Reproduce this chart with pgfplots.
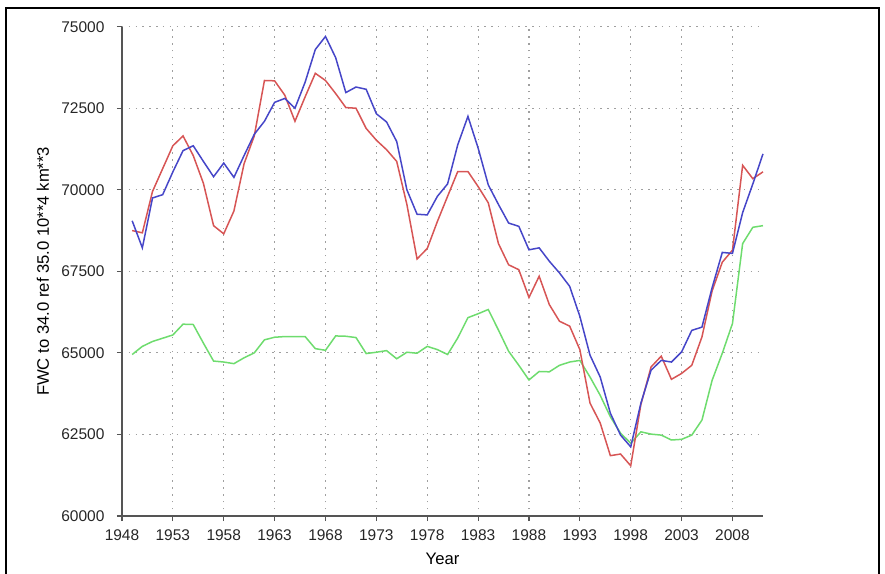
\documentclass[border=0pt]{standalone}
\usepackage{fontspec}
\setmainfont{Liberation Sans}
\usepackage{pgfplots}
\usepackage{pgfplotstable}
\pgfplotsset{compat=1.18}
\definecolor{cblue}{RGB}{70,70,200}
\definecolor{cred}{RGB}{215,85,85}
\definecolor{cgreen}{RGB}{110,220,110}
\definecolor{axgray}{RGB}{85,85,85}
\pgfplotstableread{
year blue red green
1949 69050 68750 64950
1950 68220 68680 65200
1951 69750 69950 65350
1952 69850 70650 65450
1953 70550 71350 65550
1954 71200 71650 65880
1955 71350 71050 65870
1956 70870 70200 65300
1957 70400 68900 64750
1958 70820 68650 64720
1959 70380 69350 64670
1960 71050 70800 64850
1961 71700 71650 65000
1962 72100 73350 65400
1963 72680 73340 65480
1964 72800 72900 65500
1965 72500 72100 65500
1966 73300 72850 65500
1967 74300 73570 65130
1968 74700 73350 65080
1969 74050 72950 65520
1970 72980 72520 65510
1971 73150 72500 65470
1972 73080 71880 64980
1973 72330 71520 65020
1974 72080 71230 65070
1975 71480 70870 64820
1976 70000 69550 65020
1977 69250 67880 64990
1978 69230 68200 65200
1979 69800 69030 65100
1980 70180 69800 64950
1981 71380 70560 65460
1982 72250 70560 66080
1983 71280 70100 66200
1984 70150 69600 66330
1985 69550 68350 65700
1986 68980 67700 65050
1987 68880 67550 64620
1988 68160 66700 64170
1989 68220 67350 64430
1990 67810 66480 64420
1991 67450 65970 64620
1992 67040 65820 64720
1993 66120 65100 64770
1994 64930 63460 64260
1995 64260 62850 63700
1996 63150 61850 63040
1997 62480 61900 62540
1998 62120 61540 62230
1999 63460 63420 62580
2000 64470 64570 62510
2001 64770 64900 62480
2002 64720 64190 62330
2003 65030 64370 62350
2004 65690 64620 62480
2005 65790 65490 62940
2006 67000 66900 64160
2007 68080 67780 64990
2008 68050 68150 65900
2009 69300 70750 68350
2010 70180 70340 68850
2011 71100 70550 68900
}\datatable
\begin{document}
\begin{tikzpicture}[x=0.6pt,y=0.6pt]
\path[use as bounding box] (0,0) rectangle (885,573);
\draw[black, line width=1.1pt] (6,-2) -- (6,565) -- (879,565) -- (879,-2);
\begin{axis}[
  at={(73.2pt,34.2pt)}, anchor=south west,
  scale only axis, width=384.6pt, height=293.6pt,
  xmin=1948, xmax=2011, ymin=60000, ymax=75000,
  axis x line*=bottom, axis y line*=left,
  axis line style={axgray, line width=0.8pt},
  xtick={1948,1953,...,2008},
  ytick={60000,62500,...,75000},
  scaled y ticks=false, scaled x ticks=false,
  yticklabel={\pgfmathprintnumber[fixed,precision=0,1000 sep={}]{\tick}},
  tick align=outside, major tick length=3pt,
  tick style={axgray, line width=0.7pt},
  xmajorgrids, ymajorgrids,
  major grid style={gray!75, line width=0.7pt, dash pattern=on 0.9pt off 3.2pt},
  /pgf/number format/1000 sep={},
  /pgf/number format/assume math mode=true,
  tick label style={font=\fontsize{9.3}{11}\selectfont, text=black!85},
  yticklabel style={xshift=-4pt},
  xticklabel style={yshift=-1.5pt},
  label style={font=\fontsize{9.3}{11}\selectfont, text=black!85},
  xlabel={Year},
  ylabel={FWC to 34.0 ref 35.0 10**4 km**3},
  every axis x label/.style={at={(axis description cs:0.5,0)}, anchor=center, yshift=-25.8pt},
  every axis y label/.style={at={(axis description cs:0,0.5)}, anchor=center, rotate=90, yshift=47.4pt},
  clip=false,
]
\addplot[cgreen, line width=0.9pt] table[x=year, y=green] {\datatable};
\addplot[cred, line width=0.9pt] table[x=year, y=red] {\datatable};
\addplot[cblue, line width=0.9pt] table[x=year, y=blue] {\datatable};
\end{axis}
\end{tikzpicture}
\end{document}
